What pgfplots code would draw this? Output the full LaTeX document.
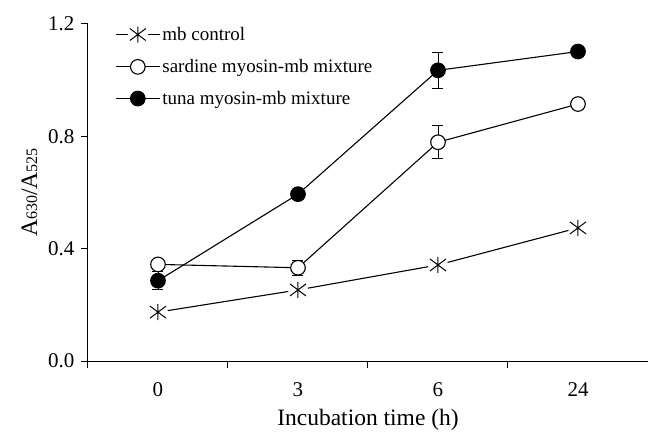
\documentclass[border=0pt]{standalone}
\usepackage{fontspec}
\setmainfont{Liberation Serif}
\usepackage{pgfplots}
\pgfplotsset{compat=1.18}

% asterisk with a white halo so the line stops short of it
\pgfdeclareplotmark{halostar}{%
  \pgfpathcircle{\pgfpointorigin}{1.25\pgfplotmarksize}%
  \pgfsetfillcolor{white}\pgfusepathqfill
  \pgfpathmoveto{\pgfqpoint{0pt}{\pgfplotmarksize}}%
  \pgfpathlineto{\pgfqpoint{0pt}{-\pgfplotmarksize}}%
  \pgfpathmoveto{\pgfqpoint{-\pgfplotmarksize}{-0.75\pgfplotmarksize}}%
  \pgfpathlineto{\pgfqpoint{\pgfplotmarksize}{0.75\pgfplotmarksize}}%
  \pgfpathmoveto{\pgfqpoint{-\pgfplotmarksize}{0.75\pgfplotmarksize}}%
  \pgfpathlineto{\pgfqpoint{\pgfplotmarksize}{-0.75\pgfplotmarksize}}%
  \pgfusepathqstroke
}

\begin{document}
\begin{tikzpicture}
\begin{axis}[
	scale only axis,
	width=560pt, height=337pt,
	xmin=-0.5, xmax=3.5, ymin=0, ymax=1.2,
	axis x line=bottom, axis y line=left,
	axis line style={-, line width=1pt},
	y axis line style={shorten <=-7pt},
	xtick={0,1,2,3}, xticklabels={0,3,6,24},
	minor xtick={0.5,1.5,2.5},
	major x tick style={draw=none},
	xticklabel shift=11pt,
	ytick={0,0.4,0.8,1.2},
	yticklabel style={/pgf/number format/.cd, fixed, fixed zerofill, precision=1},
	yticklabel shift=3pt,
	/pgf/number format/assume math mode=true,
	tick align=outside,
	major tick length=7pt, minor tick length=7pt,
	tick style={black, line width=1pt},
	tick label style={font=\fontsize{21}{24}\selectfont},
	xlabel={Incubation time (h)},
	xlabel style={yshift=-6pt},
	ylabel={A{\fontsize{16}{16}\selectfont 630}/A{\fontsize{16}{16}\selectfont 525}},
	ylabel style={yshift=4pt},
	label style={font=\fontsize{23.5}{26}\selectfont},
	legend cell align=left,
	legend style={draw=none, fill=none, at={(rel axis cs:0.043,1.005)}, anchor=north west,
		font=\fontsize{19}{21}\selectfont, row sep=13pt},
	legend image code/.code={\draw[mark repeat=2,mark phase=2] plot coordinates {(0pt,0pt) (22pt,0pt) (44pt,0pt)};},
	every axis plot/.append style={black, line width=1.1pt},
	error bars/error mark options={rotate=90, mark size=5.5pt, line width=1.1pt},
	clip=false,
]
\addplot[mark=halostar, mark size=8pt, mark options={line width=1pt}]
	coordinates {(0,0.174) (1,0.253) (2,0.342) (3,0.474)};
\addlegendentry{mb control}

\addplot[mark=*, mark size=7.3pt, mark options={fill=white}, error bars/.cd, y dir=both, y explicit]
	coordinates {(0,0.344) +- (0,0) (1,0.332) +- (0,0.027) (2,0.779) +- (0,0.058) (3,0.915) +- (0,0)};
\addlegendentry{sardine myosin-mb mixture}

\addplot[mark=*, mark size=7.3pt, mark options={fill=black}, error bars/.cd, y dir=both, y explicit]
	coordinates {(0,0.286) +- (0,0.032) (1,0.594) +- (0,0) (2,1.035) +- (0,0.065) (3,1.102) +- (0,0)};
\addlegendentry{tuna myosin-mb mixture}
\end{axis}
\path (current axis.south west) ++(-88pt,-70pt) rectangle ++(649pt,431pt);
\end{tikzpicture}
\end{document}
